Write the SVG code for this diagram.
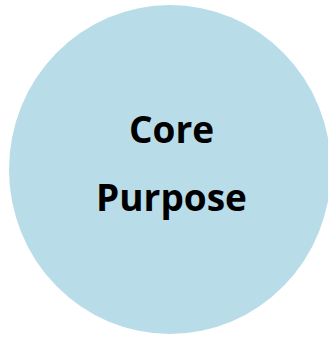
<svg xmlns="http://www.w3.org/2000/svg" width="328" height="337" viewBox="0 0 328 337">
  <style>
    .node-shape { fill: #b8dde8; }
    .node-label { font-family: "Open Sans", "DejaVu Sans", sans-serif; font-weight: bold; font-size: 37px; fill: #000000; text-anchor: middle; }
  </style>
  <g id="core-purpose">
    <ellipse class="node-shape" cx="170" cy="169.5" rx="161" ry="164.5"/>
    <text class="node-label" x="171.5" y="143">Core</text>
    <text class="node-label" x="171.5" y="211">Purpose</text>
  </g>
</svg>
